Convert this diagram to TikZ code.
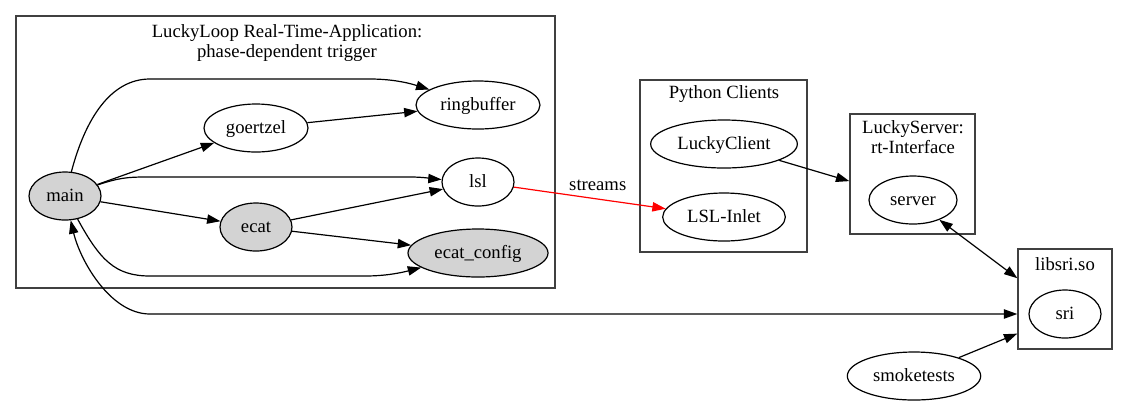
\documentclass[tikz,border=0pt]{standalone}
\usepackage{fontspec}
\setmainfont{Liberation Serif}
\usetikzlibrary{shapes.geometric,arrows.meta,fit}
\definecolor{gvgray}{HTML}{D3D3D3}
\begin{document}
\begin{tikzpicture}[x=0.75pt,y=-0.75pt,
    font=\fontsize{14}{15}\selectfont,
    gvnode/.style={ellipse,draw,line width=0.9pt,minimum height=36pt,inner sep=0pt,
                   text height=10pt,text depth=2.5pt},
    shaded/.style={gvnode,fill=gvgray},
    cluster/.style={draw=black!75,line width=1.1pt,inner sep=0pt},
    edge/.style={line width=0.9pt,-{Triangle[length=10pt,width=7pt]}},
    both/.style={line width=0.9pt,{Triangle[length=10pt,width=7pt]}-{Triangle[length=10pt,width=7pt]}}]
    \useasboundingbox (0,0) rectangle (1127,405);
    % clusters
    \node[cluster,fit={(16,16) (555,288)}] (loopbox) {};
    \node[align=center] (looptitle) at (287,43.2) {LuckyLoop Real-Time-Application:\\phase-dependent trigger};
    \node[cluster,fit={(640,80) (807,252)}] (clientbox) {};
    \node[anchor=base] (clienttitle) at (724,98.7) {Python Clients};
    \node[cluster,fit={(850,114) (975,234)}] (serverbox) {};
    \node[align=center] (servertitle) at (913,137.6) {LuckyServer:\\rt-Interface};
    \node[cluster,fit={(1018,249) (1112,349)}] (libbox) {};
    \node[anchor=base] (libtitle) at (1065,270) {libsri.so};
    % nodes
    \node[shaded,minimum width=54pt] (main) at (65,196) {main};
    \node[gvnode,minimum width=78pt] (goertzel) at (256,128) {goertzel};
    \node[gvnode,minimum width=93pt] (ringbuffer) at (478,105) {ringbuffer};
    \node[gvnode,minimum width=54pt] (lsl) at (478,182) {lsl};
    \node[shaded,minimum width=54pt] (ecat) at (256,227) {ecat};
    \node[shaded,minimum width=105pt] (ecatconfig) at (478,253) {ecat\_config};
    \node[gvnode,minimum width=110pt] (client) at (724,144) {LuckyClient};
    \node[gvnode,minimum width=92pt] (inlet) at (724,217) {LSL-Inlet};
    \node[gvnode,minimum width=66pt] (server) at (913,200) {server};
    \node[gvnode,minimum width=54pt] (sri) at (1065,314) {sri};
    \node[gvnode,minimum width=100pt] (smoketests) at (914,376) {smoketests};
    % edges
    \draw[edge] (main) -- (goertzel);
    \draw[edge] (main) -- (ecat);
    \draw[edge] (goertzel) -- (ringbuffer);
    \draw[edge] (ecat) -- (lsl);
    \draw[edge] (ecat) -- (ecatconfig);
    \draw[edge] (main) .. controls (85,120) and (110,79) .. (150,79) -- (370,79)
        .. controls (395,79) and (412,84) .. (ringbuffer);
    \draw[edge] (main) .. controls (118,178) and (128,177) .. (145,177) -- (410,177)
        .. controls (425,177) and (435,179) .. (lsl);
    \draw[edge] (main) .. controls (100,260) and (115,276) .. (150,276) -- (365,276)
        .. controls (385,276) and (400,273) .. (ecatconfig);
    \draw[both] (main) .. controls (80,260) and (110,314) .. (150,314) -- (sri -| libbox.west);
    \draw[edge,red] (lsl) -- node[midway,anchor=base,xshift=6pt,yshift=5.25pt,text=black] {streams} (inlet);
    \draw[edge] (client) -- (intersection of client--server and serverbox.north west--serverbox.south west);
    \draw[both] (server) -- (intersection of server--sri and libbox.north west--libbox.south west);
    \draw[edge] (smoketests) -- (intersection of smoketests--sri and libbox.north west--libbox.south west);
\end{tikzpicture}
\end{document}
